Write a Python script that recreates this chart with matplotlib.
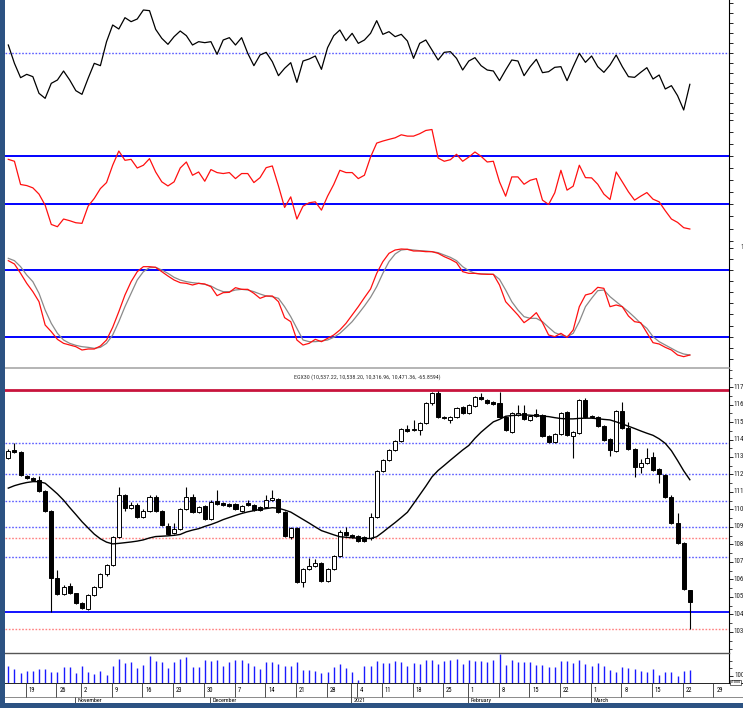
import matplotlib
matplotlib.use("Agg")
import matplotlib.pyplot as plt
from matplotlib.patches import Rectangle
from matplotlib.ticker import MultipleLocator, FixedLocator, NullFormatter
from matplotlib import font_manager as fm
import numpy as np

# ---------------- data (one value per trading day, 14 Oct 2020 .. 23 Mar 2021) -------------
opens = [11293, 11340, 11329, 11192, 11179, 11166, 11106, 10991, 10610, 10515,
         10563, 10521, 10464, 10431, 10511, 10559, 10629, 10683, 10841, 11083,
         11007, 11026, 10956, 10993, 11074, 10993, 10906, 10864, 10887, 11003,
         11074, 10987, 11020, 10944, 11049, 11035, 11031, 11031, 10993, 11035,
         11026, 11013, 11016, 11054, 11061, 10987, 10841, 10896, 10587, 10658,
         10677, 10692, 10591, 10658, 10734, 10873, 10854, 10848, 10841, 10835,
         10959, 11221, 11283, 11340, 11392, 11459, 11455, 11455, 11493, 11607,
         11665, 11531, 11512, 11531, 11588, 11550, 11592, 11645, 11626, 11617,
         11607, 11531, 11445, 11542, 11554, 11512, 11536, 11541, 11420, 11388,
         11430, 11559, 11420, 11440, 11626, 11535, 11531, 11478, 11402, 11336,
         11563, 11465, 11344, 11242, 11265, 11299, 11230, 11198, 11074, 10925,
         10807, 10537.22]
highs = [11344, 11382, 11335, 11196, 11183, 11192, 11110, 10995, 10654, 10570,
         10580, 10525, 10470, 10515, 10565, 10635, 10690, 10848, 11131, 11090,
         11040, 11035, 11000, 11085, 11080, 10998, 10925, 10920, 11010, 11131,
         11090, 11022, 11026, 11052, 11112, 11040, 11036, 11036, 11026, 11054,
         11031, 11018, 11083, 11112, 11068, 10993, 10902, 10902, 10665, 10721,
         10715, 10700, 10665, 10740, 10880, 10902, 10860, 10855, 10848, 10978,
         11228, 11290, 11346, 11398, 11465, 11483, 11512, 11500, 11614, 11672,
         11678, 11537, 11537, 11585, 11594, 11604, 11651, 11668, 11632, 11622,
         11673, 11537, 11556, 11598, 11598, 11541, 11573, 11547, 11426, 11436,
         11560, 11565, 11451, 11632, 11640, 11541, 11537, 11484, 11408, 11569,
         11617, 11502, 11350, 11287, 11350, 11331, 11236, 11204, 11080, 10982,
         10812, 10538.20]
lows = [11287, 11325, 11192, 11176, 11160, 11100, 10985, 10416, 10508, 10508,
        10515, 10458, 10428, 10425, 10505, 10553, 10622, 10677, 10835, 10990,
        11000, 10953, 10950, 10988, 10988, 10905, 10852, 10858, 10880, 10998,
        10980, 10980, 10938, 10938, 11026, 11020, 11015, 10995, 10988, 11020,
        10991, 10992, 11010, 11049, 10980, 10840, 10831, 10580, 10555, 10652,
        10670, 10585, 10585, 10652, 10728, 10848, 10838, 10815, 10812, 10828,
        10953, 11215, 11277, 11334, 11386, 11445, 11448, 11426, 11487, 11600,
        11525, 11516, 11493, 11525, 11544, 11544, 11586, 11624, 11605, 11597,
        11525, 11449, 11439, 11536, 11510, 11506, 11530, 11414, 11382, 11382,
        11424, 11420, 11293, 11434, 11525, 11521, 11472, 11392, 11306, 11330,
        11459, 11338, 11188, 11210, 11259, 11220, 11151, 11068, 10918, 10800,
        10537, 10316.96]
closes = [11336, 11329, 11198, 11181, 11166, 11106, 10991, 10610, 10515, 10559,
          10521, 10464, 10435, 10511, 10559, 10629, 10683, 10841, 11083, 11007,
          11026, 10959, 10993, 11074, 10993, 10911, 10858, 10887, 11003, 11074,
          10987, 11016, 10944, 11045, 11031, 11026, 11020, 11001, 11020, 11026,
          10997, 10997, 11054, 11065, 10987, 10848, 10896, 10587, 10658, 10677,
          10692, 10591, 10658, 10734, 10873, 10854, 10844, 10820, 10821, 10959,
          11221, 11283, 11340, 11392, 11459, 11451, 11459, 11493, 11607, 11665,
          11531, 11522, 11531, 11579, 11550, 11598, 11645, 11630, 11611, 11603,
          11531, 11455, 11550, 11554, 11516, 11535, 11546, 11420, 11388, 11430,
          11554, 11426, 11445, 11626, 11531, 11527, 11478, 11398, 11340, 11563,
          11465, 11344, 11242, 11265, 11293, 11226, 11202, 11074, 10925, 10807,
          10544, 10471.36]
moving_avg = [11122, 11136, 11146, 11154, 11159, 11159, 11150, 11120, 11089, 11053,
              11011, 10971, 10930, 10894, 10859, 10832, 10813, 10803, 10806, 10810,
              10814, 10819, 10826, 10837, 10845, 10847, 10849, 10852, 10857, 10872,
              10882, 10890, 10903, 10914, 10927, 10942, 10954, 10966, 10977, 10986,
              10993, 11000, 11005, 11010, 11007, 10997, 10985, 10964, 10943, 10922,
              10900, 10879, 10867, 10855, 10844, 10841, 10838, 10835, 10834, 10834,
              10844, 10870, 10898, 10925, 10954, 10984, 11033, 11083, 11133, 11186,
              11223, 11252, 11282, 11311, 11340, 11366, 11407, 11442, 11472, 11501,
              11515, 11533, 11537, 11539, 11541, 11539, 11536, 11534, 11531, 11525,
              11520, 11518, 11518, 11521, 11522, 11522, 11519, 11515, 11512, 11501,
              11489, 11476, 11463, 11449, 11436, 11424, 11404, 11378, 11336, 11280,
              11221, 11170]
volume = [225, 189, 135, 158, 158, 194, 194, 149, 149, 216,
          216, 135, 234, 144, 126, 158, 104, 234, 324, 270,
          279, 203, 248, 369, 293, 279, 203, 284, 324, 347,
          216, 216, 306, 302, 306, 234, 284, 306, 306, 270,
          234, 194, 279, 279, 257, 234, 234, 279, 180, 171,
          167, 135, 149, 216, 257, 203, 144, 36, 225, 234,
          302, 270, 270, 302, 284, 234, 270, 261, 315, 315,
          257, 293, 315, 324, 261, 306, 302, 302, 284, 315,
          392, 239, 315, 284, 279, 279, 239, 248, 216, 216,
          293, 302, 270, 315, 261, 234, 270, 234, 180, 149,
          216, 203, 194, 167, 144, 189, 113, 144, 144, 99,
          158, 180]
momentum = [25, -30, -73, -63, -70, -120, -135, -90, -80, -53,
            -80, -112, -123, -75, -30, -37, 35, 85, 73, 107,
            95, 103, 130, 128, 72, 45, 27, 50, 67, 53,
            25, 35, 32, 35, -3, 40, 47, 25, 47, 0,
            -37, -5, 3, -25, -67, -45, -28, -87, -23, -17,
            -8, -48, 17, 53, 70, 38, 60, 30, 40, 60,
            98, 57, 65, 50, 57, 37, -15, 30, 40, 10,
            -20, 3, 5, -15, -50, -23, -13, -37, -50, -53,
            -82, -50, -20, -23, -67, -40, -18, -58, -55, -42,
            -40, -82, -40, 0, -27, -8, -40, -57, -35, -5,
            -40, -70, -72, -57, -43, -77, -65, -107, -97, -127,
            -170, -93]
rsi = [67.5, 65.9, 46.6, 45.7, 43.8, 38.6, 29.4, 13.4, 11.5, 17.9,
       16.5, 14.8, 14.3, 28.6, 35.0, 43.2, 48.2, 62.6, 74.4, 66.7,
       67.5, 60.3, 62.6, 68.1, 57.0, 48.8, 45.4, 48.8, 60.3, 65.3,
       54.3, 57.0, 49.3, 59.0, 56.5, 55.7, 56.5, 51.5, 55.7, 55.7,
       48.2, 52.3, 60.6, 62.0, 45.4, 27.5, 36.3, 17.9, 28.6, 31.4,
       32.2, 25.3, 36.9, 46.6, 58.4, 56.5, 56.5, 51.5, 54.3, 69.4,
       81.0, 82.7, 84.1, 85.4, 87.9, 86.8, 86.8, 88.8, 91.5, 92.3,
       68.6, 65.9, 67.2, 71.7, 65.9, 69.4, 73.6, 70.0, 65.3, 65.9,
       48.8, 36.9, 52.9, 52.9, 46.8, 50.1, 51.5, 33.6, 30.0, 39.7,
       58.4, 41.9, 45.2, 62.6, 52.3, 52.1, 46.8, 38.6, 34.1, 57.0,
       48.8, 40.5, 33.6, 36.9, 39.9, 34.4, 32.2, 24.8, 17.9, 15.1,
       10.7, 9.6]
stoch_k = [88.4, 85.4, 77, 68, 60.5, 51.5, 30.5, 24.5, 17.6, 14,
           12.5, 11, 8, 8.9, 8.9, 11.6, 17, 28.4, 42.5, 57.5,
           69.5, 78.5, 83, 83, 82.4, 78.5, 74.6, 71, 68.6, 68,
           66.5, 68, 67.4, 65, 56.9, 59.6, 59.9, 64.1, 62.6, 62.6,
           59, 54.5, 56.6, 56.6, 51.5, 37.1, 33.5, 17, 12.5, 14,
           17.6, 15.5, 18.5, 21.5, 26, 32, 39.5, 47, 55.1, 62.9,
           77, 87.5, 95, 98, 98.9, 98.6, 97.1, 97.1, 96.5, 96.5,
           95, 92, 89.6, 86.6, 78.5, 77, 77, 76.4, 76.1, 76.1,
           66.5, 51.5, 45.5, 39.5, 32.6, 36.5, 41.6, 32.6, 21.5, 20,
           23, 19.4, 26, 47, 57.5, 59, 64.4, 63.5, 47, 48.5,
           47, 38.6, 33.5, 32.6, 23.6, 14.6, 13.4, 10.4, 8, 3.5,
           2, 3.5]
stoch_d = [90.5, 88.4, 83, 75.5, 69.5, 59, 44, 32, 23, 17,
           14, 12.2, 11, 10.4, 9.5, 10.4, 14, 21.5, 33.5, 47,
           59, 71, 78.5, 82.1, 82.4, 80, 77, 73.4, 71, 69.5,
           68.6, 68, 67.1, 65.6, 62.6, 60.5, 60.5, 62, 62.6, 62,
           60.5, 58.4, 56.6, 56, 54.5, 47, 38, 27.5, 17, 15.5,
           15.5, 16.1, 17, 19.4, 23, 28.1, 33.5, 40.4, 47.6, 55.4,
           65, 77, 87.5, 94.4, 98, 98.6, 98, 97.4, 97.1, 96.5,
           95.6, 93.5, 91.4, 88.4, 83, 79.4, 77, 76.4, 76.4, 76.1,
           71.6, 62, 51.5, 44, 38, 36.5, 36.5, 33.5, 28.4, 23.6,
           21.5, 20, 23, 33.5, 47, 54.5, 61.4, 62, 56, 51.5,
           47, 42.5, 37.4, 32, 27.5, 20, 15.5, 12.5, 9.5, 6.5,
           4.4, 3.5]

# horizontal reference levels on the price panel
level_top = 11681
levels_blue_dotted = [11382, 11201, 11050, 10900, 10730]
levels_red_dotted = [10839, 10316]
level_blue_solid = 10415
rsi_levels = [70, 30]
stoch_levels = [80, 20]

title = "EGX30 (10,537.22, 10,538.20, 10,316.96, 10,471.36, -65.8594)"
price_ticks = [10300, 10400, 10500, 10600, 10700, 10800, 10900, 11000,
               11100, 11200, 11300, 11400, 11500, 11600, 11700]

# weekly date ticks (trading-day index of each Monday) and month starts
week_labels = ["19", "26", "2", "9", "16", "23", "30", "7", "14", "21", "28", "4",
               "11", "18", "25", "1", "8", "15", "22", "1", "8", "15", "22", "29"]
week_index = [3, 8, 12, 17, 22, 27, 32, 37, 42, 47, 52, 57,
              61, 66, 71, 75, 80, 85, 90, 95, 100, 105, 110, 115]
month_labels = ["November", "December", "2021", "February", "March"]
month_index = [11, 33, 56, 75, 95]

# ---------------- font: prefer a narrow face ----------------
def pick_font():
    prefs = ["Liberation Sans Narrow", "Roboto Condensed", "Open Sans Condensed",
             "Noto Sans Condensed", "DejaVu Sans Condensed", "Arial Narrow"]
    ents = fm.fontManager.ttflist
    for name in prefs:
        for f in ents:
            if f.name == name and f.style == "normal" and f.weight in (400, "normal", "regular"):
                return fm.FontProperties(fname=f.fname)
    for f in ents:
        if (f.stretch in ("condensed", "semi-condensed", "extra-condensed")
                and f.style == "normal" and f.weight in (400, "normal", "regular")
                and f.name in ("DejaVu Sans", "Noto Sans", "Roboto", "Open Sans",
                               "Liberation Sans", "Lato", "Inter")):
            return fm.FontProperties(fname=f.fname)
    return fm.FontProperties(family=["Liberation Sans", "DejaVu Sans"])

FP = pick_font()

# ---------------- layout ----------------
W, H = 743, 708
fig = plt.figure(figsize=(W / 100, H / 100), dpi=100)
fig.patch.set_facecolor("white")
renderer = fig.canvas.get_renderer()

def text_width(s, size):
    t = fig.text(0, 0, s, fontproperties=FP, fontsize=size)
    w = t.get_window_extent(renderer).width
    t.remove()
    return w

def fit_size(s, target_px, base=6.0):
    return base * target_px / text_width(s, base)

SZ_TITLE = max(fit_size(title, 139), 4.3)
SZ_AXIS = max(fit_size("11700", 16.5), 5.0)
SZ_DATE = max(fit_size("19", 6.0), 4.7)
SZ_MONTH = max(fit_size("November", 24), 4.4)

def px_rect(x0, y0, x1, y1):
    return [x0 / W, 1 - y1 / H, (x1 - x0) / W, (y1 - y0) / H]

STEP, FIRST = 6.14, 8.3
def px_to_idx(px):
    return (px - FIRST) / STEP

XLIM = (px_to_idx(5), px_to_idx(729))
# right-aligned label column: widest label ("11700") starts at x = 733 px
LABEL_RIGHT = (733 + text_width("11700", SZ_AXIS) - 5) / (729 - 5)

def style_panel(ax, ylim):
    ax.set_xlim(*XLIM)
    ax.set_ylim(*ylim)
    for s in ("left", "top", "bottom"):
        ax.spines[s].set_visible(False)
    ax.spines["right"].set_linewidth(0.8)
    ax.yaxis.tick_right()
    ax.tick_params(axis="y", which="major", direction="out", length=3, width=0.6,
                   labelright=False, colors="black")
    ax.tick_params(axis="y", which="minor", direction="out", length=2, width=0.5)
    ax.tick_params(axis="x", which="both", bottom=False, labelbottom=False)
    ax.yaxis.set_major_formatter(NullFormatter())
    ax.set_facecolor("white")

def right_label(ax, v, s):
    ax.text(LABEL_RIGHT, v, s, transform=ax.get_yaxis_transform(), ha="right",
            va="center", fontproperties=FP, fontsize=SZ_AXIS, color="#202020", clip_on=False)

BLUE_DOT = dict(color="#4040ff", lw=1.0, ls=(0, (1.2, 1.2)), alpha=0.85)
RED_DOT = dict(color="#ff6a6a", lw=1.0, ls=(0, (1.2, 1.2)), alpha=0.85)

# panel 1: momentum
ax1 = fig.add_axes(px_rect(5, 0, 729, 120))
style_panel(ax1, (-200, 160))
ax1.axhline(0, **BLUE_DOT, zorder=1)
ax1.plot(np.arange(len(momentum)), momentum, color="black", lw=0.9, zorder=2)
ax1.yaxis.set_major_locator(MultipleLocator(30))

# panel 2: RSI
ax2 = fig.add_axes(px_rect(5, 120, 729, 242))
style_panel(ax2, (-1.2, 100.2))
for lv in rsi_levels:
    ax2.axhline(lv, color="#0000ff", lw=1.4, zorder=1)
ax2.plot(np.arange(len(rsi)), rsi, color="#ff1010", lw=0.9, zorder=2)
ax2.yaxis.set_major_locator(MultipleLocator(10))

# panel 3: stochastic
ax3 = fig.add_axes(px_rect(5, 242, 729, 368))
style_panel(ax3, (-8.2, 105.2))
for lv in stoch_levels:
    ax3.axhline(lv, color="#0000ff", lw=1.4, zorder=1)
ax3.plot(np.arange(len(stoch_d)), stoch_d, color="#8a8a8a", lw=0.9, zorder=2)
ax3.plot(np.arange(len(stoch_k)), stoch_k, color="#ff1010", lw=0.9, zorder=3)
ax3.yaxis.set_major_locator(MultipleLocator(10))
right_label(ax3, 100, "100")

# price panel
axm = fig.add_axes(px_rect(5, 368, 729, 653))
style_panel(axm, (10179, 11809))
axm.spines["top"].set_visible(True)
axm.spines["top"].set_color("#a8a8a8")
axm.spines["top"].set_linewidth(1.2)
axm.yaxis.set_major_locator(FixedLocator(price_ticks))
axm.yaxis.set_minor_locator(MultipleLocator(50))
for v in price_ticks:
    right_label(axm, v, str(v))

axm.axhline(level_top, color="#c8143c", lw=2.0, zorder=1)
for lv in levels_blue_dotted:
    axm.axhline(lv, **BLUE_DOT, zorder=1)
for lv in levels_red_dotted:
    axm.axhline(lv, **RED_DOT, zorder=1)
axm.axhline(level_blue_solid, color="#0000ff", lw=1.3, zorder=1)

bw = 0.66
for i, (o, h, l, c) in enumerate(zip(opens, highs, lows, closes)):
    axm.vlines(i, l, h, color="black", lw=0.8, zorder=3)
    bottom = min(o, c)
    height = max(abs(c - o), 4)
    face = "white" if c >= o else "black"
    axm.add_patch(Rectangle((i - bw / 2, bottom), bw, height, facecolor=face,
                            edgecolor="black", lw=0.7, zorder=4))
axm.plot(np.arange(len(moving_avg)), moving_avg, color="black", lw=1.0, zorder=5)
fig.text(367 / W, 1 - 377 / H, title, ha="center", va="center",
         fontproperties=FP, fontsize=SZ_TITLE, color="#303030")

# volume panel
axv = fig.add_axes(px_rect(5, 653, 729, 683))
style_panel(axv, (0, 405))
axv.spines["top"].set_visible(True)
axv.spines["top"].set_color("#555555")
axv.spines["top"].set_linewidth(1.0)
axv.vlines(np.arange(len(volume)), 0, volume, color="#1a1aff", lw=1.0)
axv.yaxis.set_major_locator(FixedLocator([100]))
axv.yaxis.set_minor_locator(FixedLocator([200, 300]))
axv.text((734 - 5) / (729 - 5), 100, "100", transform=axv.get_yaxis_transform(),
         ha="left", va="center", fontproperties=FP, fontsize=SZ_AXIS,
         color="#202020", clip_on=False)
fig.text(730.5 / W, 1 - 682.3 / H, "x1000", fontproperties=FP, fontsize=3.0,
         va="center", ha="left",
         bbox=dict(facecolor="white", edgecolor="black", lw=0.4, pad=0.3))

# date axis rows
axd = fig.add_axes(px_rect(5, 683, 743, 703))
axd.set_xlim(px_to_idx(5), px_to_idx(743))
axd.set_ylim(0, 20)
axd.axis("off")
axd.axhline(20, color="black", lw=1.2)
axd.axhline(6, color="#777777", lw=0.6)
for lab, idx in zip(week_labels, week_index):
    axd.vlines(idx - 0.15, 6, 20, color="#333333", lw=0.6)
    axd.text(idx + 0.3, 13, lab, fontproperties=FP, fontsize=SZ_DATE,
             ha="left", va="center", color="black")
for lab, idx in zip(month_labels, month_index):
    top = 20 if lab == "2021" else 6
    axd.vlines(idx - 0.15, 0, top, color="#333333", lw=0.6)
    axd.text(idx + 0.3, 2.8, lab, fontproperties=FP, fontsize=SZ_MONTH,
             ha="left", va="center", color="black")

# dark frame on the left and bottom
fig.add_artist(Rectangle((0, 0), 5 / W, 1, transform=fig.transFigure,
                         facecolor="#2c5282", edgecolor="none", zorder=50))
fig.add_artist(Rectangle((0, 0), 1, 5 / H, transform=fig.transFigure,
                         facecolor="#2c5282", edgecolor="none", zorder=50))

fig.savefig("out.png", dpi=100, facecolor="white")
